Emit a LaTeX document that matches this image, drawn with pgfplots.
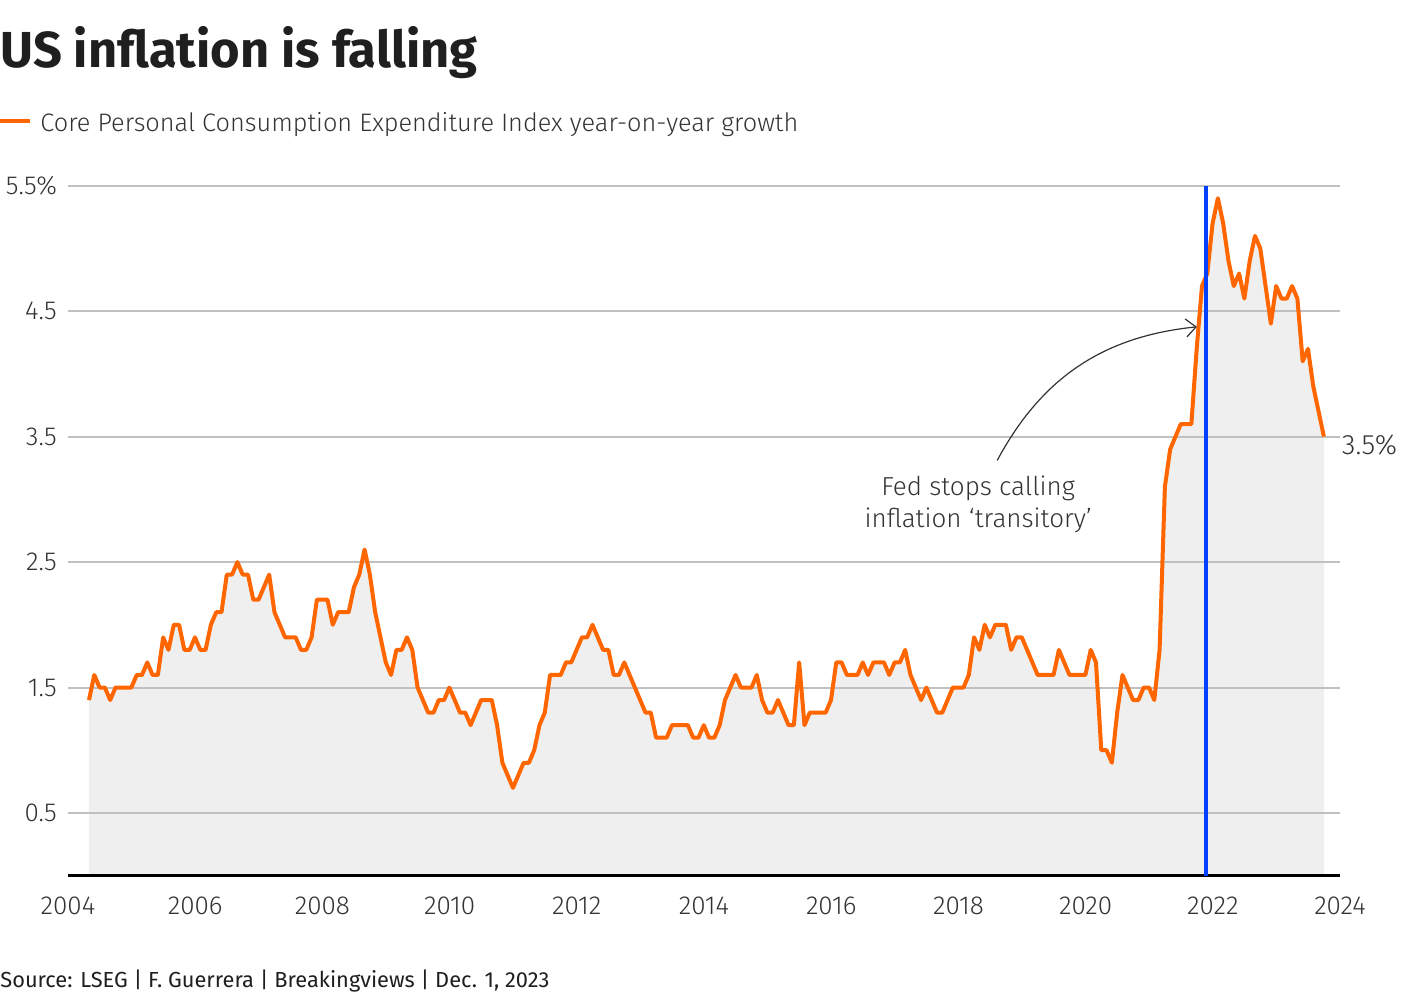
\documentclass[border=0pt]{standalone}
\usepackage{fontspec}
\setmainfont{Fira Sans}
\newfontfamily\lightfont{Fira Sans Light}
\usepackage{pgfplots}
\usepackage{pgfplotstable}
\pgfplotsset{compat=1.18}
\usetikzlibrary{arrows.meta}
\definecolor{lineorange}{RGB}{255,102,0}
\definecolor{fedblue}{RGB}{0,64,255}
\definecolor{fillgray}{RGB}{239,239,239}
\definecolor{gridgray}{RGB}{192,192,192}
\definecolor{txt}{RGB}{51,51,51}
\pgfplotstableread{
y
1.4
1.6
1.5
1.5
1.4
1.5
1.5
1.5
1.5
1.6
1.6
1.7
1.6
1.6
1.9
1.8
2.0
2.0
1.8
1.8
1.9
1.8
1.8
2.0
2.1
2.1
2.4
2.4
2.5
2.4
2.4
2.2
2.2
2.3
2.4
2.1
2.0
1.9
1.9
1.9
1.8
1.8
1.9
2.2
2.2
2.2
2.0
2.1
2.1
2.1
2.3
2.4
2.6
2.4
2.1
1.9
1.7
1.6
1.8
1.8
1.9
1.8
1.5
1.4
1.3
1.3
1.4
1.4
1.5
1.4
1.3
1.3
1.2
1.3
1.4
1.4
1.4
1.2
0.9
0.8
0.7
0.8
0.9
0.9
1.0
1.2
1.3
1.6
1.6
1.6
1.7
1.7
1.8
1.9
1.9
2.0
1.9
1.8
1.8
1.6
1.6
1.7
1.6
1.5
1.4
1.3
1.3
1.1
1.1
1.1
1.2
1.2
1.2
1.2
1.1
1.1
1.2
1.1
1.1
1.2
1.4
1.5
1.6
1.5
1.5
1.5
1.6
1.4
1.3
1.3
1.4
1.3
1.2
1.2
1.7
1.2
1.3
1.3
1.3
1.3
1.4
1.7
1.7
1.6
1.6
1.6
1.7
1.6
1.7
1.7
1.7
1.6
1.7
1.7
1.8
1.6
1.5
1.4
1.5
1.4
1.3
1.3
1.4
1.5
1.5
1.5
1.6
1.9
1.8
2.0
1.9
2.0
2.0
2.0
1.8
1.9
1.9
1.8
1.7
1.6
1.6
1.6
1.6
1.8
1.7
1.6
1.6
1.6
1.6
1.8
1.7
1.0
1.0
0.9
1.3
1.6
1.5
1.4
1.4
1.5
1.5
1.4
1.8
3.1
3.4
3.5
3.6
3.6
3.6
4.2
4.7
4.8
5.2
5.4
5.2
4.9
4.7
4.8
4.6
4.9
5.1
5.0
4.7
4.4
4.7
4.6
4.6
4.7
4.6
4.1
4.2
3.9
3.7
3.5
}\pce
\begin{document}
\begin{tikzpicture}
\begin{axis}[
  set layers,
  scale only axis, width=636pt, height=345pt,
  xmin=2004, xmax=2024, ymin=0, ymax=5.5,
  axis lines*=left,
  y axis line style={draw=none},
  x axis line style={draw=black, line width=1.2pt},
  xtick={2004,2006,...,2024},
  xticklabels={2004,2006,2008,2010,2012,2014,2016,2018,2020,2022,2024},
  ytick={0.5,1.5,2.5,3.5,4.5,5.5},
  yticklabels={0.5,1.5,2.5,3.5,4.5,5.5\%},
  major tick length=0pt,
  ymajorgrids,
  grid style={gridgray, line width=1pt},
  tick label style={font=\lightfont\fontsize{13}{15}\selectfont, text=txt},
  /pgf/number format/assume math mode=true,
  yticklabel style={xshift=-2pt},
  xticklabel style={yshift=-7pt},
  clip=false,
]
\addplot[on layer=axis background, fill=fillgray, draw=none] table[x expr=2004.33+\coordindex/12, y=y] {\pce} \closedcycle;
\addplot[lineorange, line width=2pt, line join=round] table[x expr=2004.33+\coordindex/12, y=y] {\pce};
\addplot[fedblue, line width=2pt] coordinates {(2021.9,0) (2021.9,5.5)};
\draw[txt, line width=0.6pt, -{Straight Barb[length=5pt, width=9pt]}] (axis cs:2018.61,3.31) to[bend left=28] (axis cs:2021.75,4.375);
\node[align=center, text=txt, font=\lightfont\fontsize{13}{16}\selectfont] at (axis cs:2018.31,2.96) {Fed stops calling\\inflation ‘transitory’};
\node[anchor=west, text=txt, font=\lightfont\fontsize{14}{16}\selectfont] at (axis cs:2023.92,3.43) {3.5\%};
\end{axis}
\node[anchor=base west, inner sep=0pt, font=\bfseries\fontsize{25.3}{30}\selectfont, text=black!88] at (-34pt,403.85pt) {US inflation is falling};
\draw[lineorange, line width=2pt] (-34pt,377.35pt) -- (-19pt,377.35pt);
\node[anchor=base west, inner sep=0pt, font=\lightfont\fontsize{12.65}{15}\selectfont, text=txt] at (-14pt,371.85pt) {Core Personal Consumption Expenditure Index year-on-year growth};
\node[anchor=base west, inner sep=0pt, font=\fontsize{10.9}{12}\selectfont, text=black!88] at (-34pt,-56.15pt) {Source: LSEG | F. Guerrera | Breakingviews | Dec. 1, 2023};
\pgfresetboundingbox
\path[use as bounding box] (-34pt,-62.15pt) rectangle (676pt,437.85pt);
\end{tikzpicture}
\end{document}
